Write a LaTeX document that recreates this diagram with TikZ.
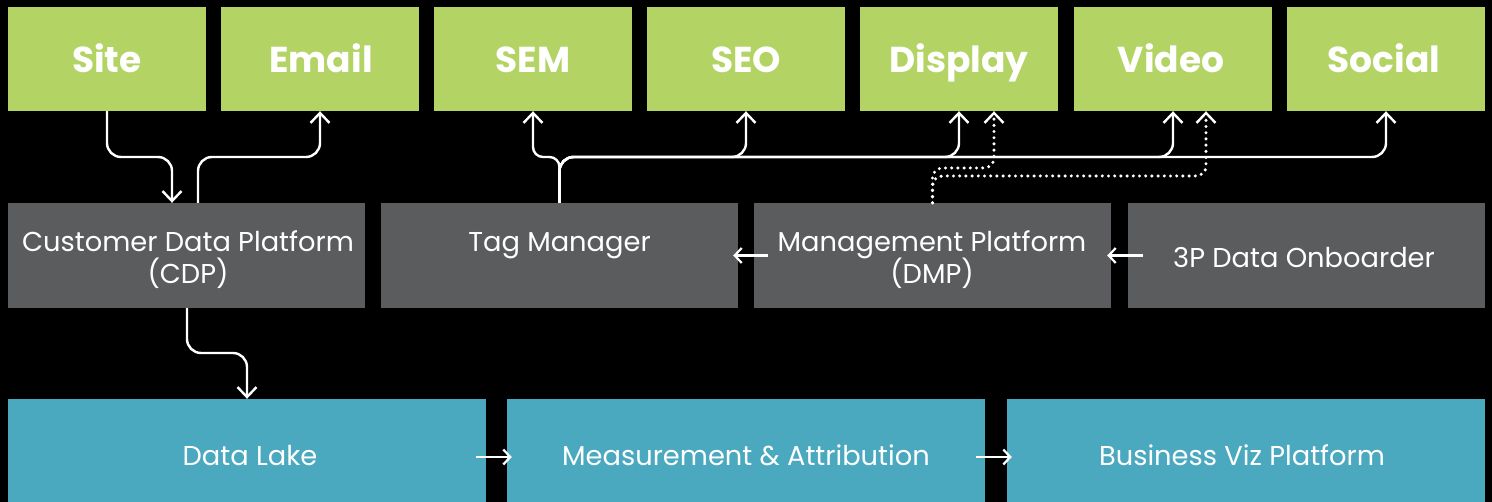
\documentclass[tikz,border=0pt]{standalone}
\usepackage{fontspec}
\setmainfont{Poppins}
\usetikzlibrary{arrows.meta,calc}
\definecolor{cgreen}{RGB}{179,212,101}
\definecolor{cgray}{RGB}{91,92,94}
\definecolor{cteal}{RGB}{74,168,191}
\begin{document}
\begin{tikzpicture}[x=1pt,y=-1pt,
  chan/.style={fill=cgreen,inner sep=0pt,minimum width=198pt,minimum height=104pt},
  mid/.style={fill=cgray,inner sep=0pt,minimum width=357pt,minimum height=105pt},
  low/.style={fill=cteal,inner sep=0pt,minimum width=478pt,minimum height=104pt},
  chanlbl/.style={text=white,font=\fontsize{36}{40}\selectfont\bfseries,anchor=base,inner sep=0pt},
  lbl/.style={text=white,font=\fontsize{27.3}{32}\selectfont,anchor=base,inner sep=0pt,align=center},
  conn/.style={draw=white,line width=2.4pt,rounded corners=14pt,-{Straight Barb[length=10pt,width=19pt]}},
  dotconn/.style={draw=white,line width=3.4pt,line cap=round,dash pattern=on 0pt off 6.2pt,rounded corners=10pt,-{Straight Barb[length=10pt,width=19pt,line cap=butt,line width=2.4pt]}},
  short/.style={draw=white,line width=2.2pt,-{Straight Barb[length=7pt,width=15pt]}}
]
\fill[black] (0,0) rectangle (1492,502);
\useasboundingbox (0,0) rectangle (1492,502);

% top channel boxes
\node[chan] (site)    at (107,59)  {};
\node[chan] (email)   at (320,59)  {};
\node[chan] (sem)     at (533,59)  {};
\node[chan] (seo)     at (746,59)  {};
\node[chan] (display) at (959,59)  {};
\node[chan] (video)   at (1173,59) {};
\node[chan] (social)  at (1386,59) {};
\node[chanlbl] (tsite)    at (107,73)  {Site};
\node[chanlbl] (temail)   at (321,73)  {Email};
\node[chanlbl] (tsem)     at (533,73)  {SEM};
\node[chanlbl] (tseo)     at (746,73)  {SEO};
\node[chanlbl] (tdisplay) at (959,73)  {Display};
\node[chanlbl] (tvideo)   at (1171,73) {Video};
\node[chanlbl] (tsocial)  at (1384,73) {Social};

% middle platform boxes
\node[mid] (cdp) at (186.5,255.5) {};
\node[mid] (tm)  at (559.5,255.5) {};
\node[mid] (dmp) at (932.5,255.5) {};
\node[mid] (onb) at (1306,255.5)  {};
\node[lbl] (tcdp1) at (188,252) {Customer Data Platform};
\node[lbl] (tcdp2) at (188,284) {(CDP)};
\node[lbl] (ttm)   at (559.5,252) {Tag Manager};
\node[lbl] (tdmp1) at (932,252) {Management Platform};
\node[lbl] (tdmp2) at (932,284) {(DMP)};
\node[lbl] (tonb)  at (1304,268) {3P Data Onboarder};

% bottom boxes
\node[low] (lake) at (247,451)  {};
\node[low] (ma)   at (746,451)  {};
\node[low] (biz)  at (1246,451) {};
\node[lbl] (tlake) at (250,466) {Data Lake};
\node[lbl] (tma)   at (746,466) {Measurement \& Attribution};
\node[lbl] (tbiz)  at (1242,466) {Business Viz Platform};

% helper coordinates
\coordinate (lvlA) at (0,157);
\coordinate (lvlB) at (0,168);
\coordinate (lvlC) at (0,176);
\coordinate (lvlD) at (0,353);
\coordinate (cdpin)  at ([xshift=-14.5pt]cdp.north);
\coordinate (cdpout) at ([xshift=11.5pt]cdp.north);
\coordinate (cdpdn)  at ([xshift=0.5pt]cdp.south);
\coordinate (dispdot) at ([xshift=35pt]display.south);
\coordinate (viddot)  at ([xshift=33pt]video.south);

% CDP connectors
\draw[conn] (site.south) -- (site.south |- lvlA) -- (cdpin |- lvlA) -- (cdpin);
\draw[conn] (cdpout) -- (cdpout |- lvlA) -- (email.south |- lvlA) -- (email.south);
\draw[conn] (cdpdn) -- (cdpdn |- lvlD) -- (lake.north |- lvlD) -- (lake.north);

% Tag manager connectors
\draw[conn,rounded corners=10pt] (tm.north) -- (tm.north |- lvlA) -- (sem.south |- lvlA) -- (sem.south);
\draw[conn] (tm.north) -- (tm.north |- lvlA) -- (seo.south |- lvlA) -- (seo.south);
\draw[conn] (tm.north) -- (tm.north |- lvlA) -- (display.south |- lvlA) -- (display.south);
\draw[conn] (tm.north) -- (tm.north |- lvlA) -- (video.south |- lvlA) -- (video.south);
\draw[conn] (tm.north) -- (tm.north |- lvlA) -- (social.south |- lvlA) -- (social.south);

% DMP dotted connectors
\draw[dotconn] (dmp.north) -- (dmp.north |- lvlB) -- (dispdot |- lvlB) -- (dispdot);
\draw[dotconn] (dmp.north) -- (dmp.north |- lvlC) -- (viddot |- lvlC) -- (viddot);

% short horizontal arrows
\draw[short] ([xshift=14pt]dmp.west) -- ([xshift=-5pt]tm.east);
\draw[short] ([xshift=16pt]onb.west) -- ([xshift=-4pt]dmp.east);
\draw[short] ([xshift=-10pt,yshift=-6pt]lake.east) -- ([xshift=5pt,yshift=-6pt]ma.west);
\draw[short] ([xshift=-9pt,yshift=-6pt]ma.east) -- ([xshift=5pt,yshift=-6pt]biz.west);
\end{tikzpicture}
\end{document}
